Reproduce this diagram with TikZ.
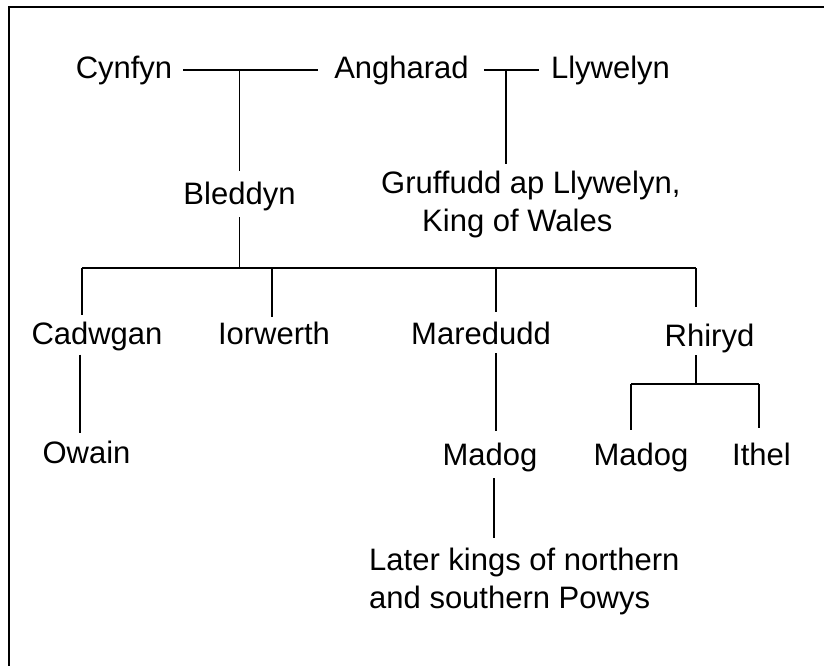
\documentclass[tikz,border=0pt]{standalone}
\usepackage{fontspec}
\setmainfont{Liberation Sans}
\begin{document}
\begin{tikzpicture}[x=1pt,y=-1pt,
  person/.style={inner sep=0pt, anchor=base, font=\fontsize{31pt}{38.5pt}\selectfont},
  multi/.style={person, anchor=north west, align=left},
  link/.style={draw, line width=1.5pt}]
\useasboundingbox (0,0) rectangle (824,666);
\draw[line width=1.6pt] (9,666) -- (9,7) -- (824,7);

% people
\node[person] (cyn) at (124,79) {Cynfyn};
\node[person] (ang) at (401.5,79) {Angharad};
\node[person] (lly) at (610.5,79) {Llywelyn};
\node[person] (bled) at (239.5,204) {Bleddyn};
\node[multi] (gru) at (381,170.5) {Gruffudd ap Llywelyn,\\\hspace*{41pt}King of Wales};
\node[person] (cad) at (97,344) {Cadwgan};
\node[person] (ior) at (274,344) {Iorwerth};
\node[person] (mar) at (481,344) {Maredudd};
\node[person] (rhi) at (709.5,346) {Rhiryd};
\node[person] (owa) at (86.5,463) {Owain};
\node[person] (mad) at (490,465) {Madog};
\node[person] (madb) at (641,465) {Madog};
\node[person] (ith) at (761.5,465) {Ithel};
\node[multi] (lat) at (369,547.5) {Later kings of northern\\and southern Powys};

% junctions
\coordinate (j1) at (239.5,70);
\coordinate (j2) at (506,70);
\coordinate (bar) at (239.5,268);
\coordinate (b1) at (82,268);
\coordinate (b2) at (272,268);
\coordinate (b3) at (496,268);
\coordinate (b4) at (696,268);
\coordinate (ox) at (80,0);
\coordinate (mx) at (496,0);
\coordinate (lx) at (494,0);
\coordinate (r) at (696,384);
\coordinate (r1) at (631,384);
\coordinate (r2) at (759,384);

% marriages
\draw[link, shorten <=11pt, shorten >=16pt] (cyn.east |- j1) -- (ang.west |- j1);
\draw[link, shorten <=15pt, shorten >=12pt] (ang.east |- j2) -- (lly.west |- j2);
\draw[link, shorten >=10.7pt] (j1) -- (j1 |- bled.north);
\draw[link, shorten >=7pt] (j2) -- (j2 |- gru.north);

% children of Bleddyn
\draw[link, shorten <=6.6pt] (bled.south) -- (bar);
\draw[link] (b1) -- (b4);
\draw[link, shorten >=6pt] (b1) -- (b1 |- cad.north);
\draw[link, shorten >=4pt] (b2) -- (b2 |- ior.north);
\draw[link, shorten >=9.5pt] (b3) -- (b3 |- mar.north);
\draw[link, shorten >=16pt] (b4) -- (b4 |- rhi.north);

% further descent
\draw[link, shorten <=4pt, shorten >=7pt] (cad.south -| ox) -- (owa.north -| ox);
\draw[link, shorten <=8.5pt, shorten >=11pt] (mar.south -| mx) -- (mad.north -| mx);
\draw[link, shorten <=6.6pt, shorten >=10pt] (mad.south -| lx) -- (lat.north -| lx);
\draw[link, shorten <=2.6pt] (rhi.south -| r) -- (r);
\draw[link] (r1) -- (r2);
\draw[link, shorten >=12pt] (r1) -- (r1 |- madb.north);
\draw[link, shorten >=14pt] (r2) -- (r2 |- ith.north);
\end{tikzpicture}
\end{document}
